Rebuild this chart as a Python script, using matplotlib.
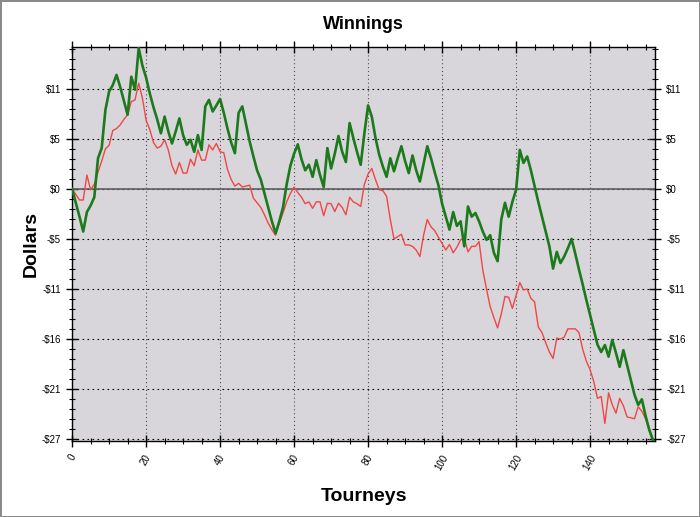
"""Winnings chart: cumulative dollars per tourney."""

import matplotlib.pyplot as plt
from matplotlib.ticker import AutoMinorLocator, MultipleLocator

plt.rcParams["font.family"] = ["Liberation Sans", "DejaVu Sans"]

# cumulative winnings (thick green), one value per tourney
green = [
    0.0, -1.5, -3.0, -4.6, -2.5, -1.8, -0.9, 3.3, 4.4, 8.5,
    10.5, 11.2, 12.3, 11.0, 9.5, 8.0, 12.1, 10.7, 15.2, 13.3,
    12.0, 10.3, 8.8, 7.5, 6.0, 7.8, 6.2, 4.9, 6.2, 7.6,
    5.8, 4.75, 5.3, 4.0, 5.8, 4.2, 8.9, 9.6, 8.35, 9.0,
    9.7, 8.2, 6.5, 5.0, 3.85, 8.2, 8.9, 7.0, 5.1, 3.5,
    2.0, 1.0, -0.5, -2.0, -3.5, -4.8, -3.5, -2.0, 0.5, 2.5,
    3.8, 4.8, 3.2, 2.0, 2.6, 1.3, 3.1, 1.5, 0.2, 4.4,
    2.2, 3.8, 5.7, 4.0, 2.9, 7.1, 5.5, 4.0, 2.6, 6.0,
    9.0, 7.8, 5.5, 3.7, 2.4, 1.3, 3.3, 1.9, 3.3, 4.6,
    3.0, 1.7, 3.6, 2.0, 0.8, 2.7, 4.6, 3.3, 1.8, 0.4,
    -1.6, -3.0, -4.4, -2.5, -4.0, -3.5, -6.2, -1.9, -3.0, -2.6,
    -3.5, -4.6, -5.5, -5.0, -6.9, -7.8, -3.3, -1.5, -3.0, -1.4,
    -0.1, 4.2, 2.8, 3.5, 2.0, 0.3, -1.4, -3.0, -4.6, -6.2,
    -8.6, -6.8, -8.0, -7.3, -6.4, -5.4, -7.0, -8.7, -10.3, -12.0,
    -13.6, -15.2, -16.8, -17.6, -16.85, -18.1, -16.3, -17.7, -19.2, -17.4,
    -19.0, -20.6, -22.2, -23.3, -22.7, -24.5, -26.0, -27.1,
]

# second series (thin red)
red = [
    0.0, -0.6, -1.2, -1.2, 1.5, -0.1, 0.5, 1.8, 3.0, 4.3,
    4.7, 6.3, 6.5, 6.9, 7.5, 8.0, 9.4, 9.6, 11.4, 9.8,
    7.4, 6.4, 5.0, 4.4, 4.6, 5.3, 4.2, 2.5, 1.6, 2.85,
    1.7, 1.7, 3.2, 2.5, 4.2, 3.1, 3.1, 4.75, 4.2, 4.9,
    4.0, 3.9, 2.1, 1.0, 0.3, 0.6, 0.2, 0.3, 0.4, -1.0,
    -1.5, -2.0, -2.8, -3.7, -4.4, -5.0, -3.7, -2.6, -1.4, -0.5,
    0.2, -0.4, -0.9, -1.6, -1.4, -2.1, -1.4, -1.4, -2.9, -1.55,
    -1.6, -2.45, -1.55, -2.0, -2.8, -0.9, -1.4, -1.6, -1.9, 0.5,
    1.6, 2.2, 1.0, -0.1, -0.2, -0.8, -3.3, -5.4, -5.15, -4.9,
    -6.05, -6.05, -6.2, -6.6, -7.3, -5.0, -3.3, -4.1, -4.5, -5.2,
    -5.9, -6.6, -6.0, -6.9, -6.3, -5.5, -5.3, -6.8, -6.2, -6.2,
    -5.7, -8.75, -10.8, -12.7, -13.9, -15.0, -13.5, -11.6, -11.7, -12.9,
    -11.5, -10.1, -10.9, -10.8, -11.8, -12.2, -14.9, -15.5, -16.6, -17.6,
    -18.3, -16.1, -16.2, -16.0, -15.1, -15.1, -15.1, -15.5, -17.3, -18.6,
    -19.5, -20.8, -22.6, -22.4, -25.3, -22.0, -23.3, -24.2, -22.6, -23.4,
    -24.6, -24.7, -24.8, -23.5, -24.0, -24.8, -26.0, -27.1,
]

tourneys = list(range(len(green)))

y_step = 5.4
y_ticks = [k * y_step for k in range(-5, 3)]
y_labels = ["-$27", "-$21", "-$16", "-$11", "-$5", "$0", "$5", "$11"]
x_ticks = [0, 20, 40, 60, 80, 100, 120, 140]

fig = plt.figure(figsize=(7, 5.17), dpi=100, edgecolor="#8a8a8a", linewidth=2)
ax = fig.add_axes([0.103, 0.147, 0.833, 0.762])
ax.set_facecolor("#d8d6da")

ax.plot(tourneys, red, color="#f04646", linewidth=1.0, zorder=3)
ax.plot(tourneys, green, color="#1c7a1c", linewidth=1.9, zorder=4)
ax.axhline(0, color="#606060", linewidth=1.2, zorder=2)

ax.set_xlim(0, 157.6)
ax.set_ylim(-27.2, 15.3)

ax.set_yticks(y_ticks)
ax.set_yticklabels(y_labels)
ax.set_xticks(x_ticks)
ax.set_xticklabels([str(t) for t in x_ticks], rotation=60, ha="center", va="top")
ax.xaxis.set_minor_locator(MultipleLocator(5))
ax.yaxis.set_minor_locator(AutoMinorLocator(5))

ax.tick_params(which="both", direction="inout", top=True, right=True,
               labelright=True, labelsize=7, colors="black")
ax.tick_params(which="major", length=9, width=1)
ax.tick_params(which="minor", length=5, width=0.8)
ax.tick_params(axis="x", which="major", pad=4)

ax.yaxis.grid(True, which="major", color="black", linestyle=(0, (1.5, 3)), linewidth=0.8)
ax.xaxis.grid(True, which="major", color="#505050", linestyle=(0, (1, 2.5)), linewidth=0.8)
for side in ax.spines.values():
    side.set_color("black")
    side.set_linewidth(1)

ax.set_title("Winnings", fontsize=13, fontweight="bold", pad=13)
ax.set_xlabel("Tourneys", fontsize=14, fontweight="bold", labelpad=12)
ax.set_ylabel("Dollars", fontsize=14, fontweight="bold", labelpad=1)

fig.savefig("out.png", dpi=100, edgecolor=fig.get_edgecolor())
plt.close(fig)
